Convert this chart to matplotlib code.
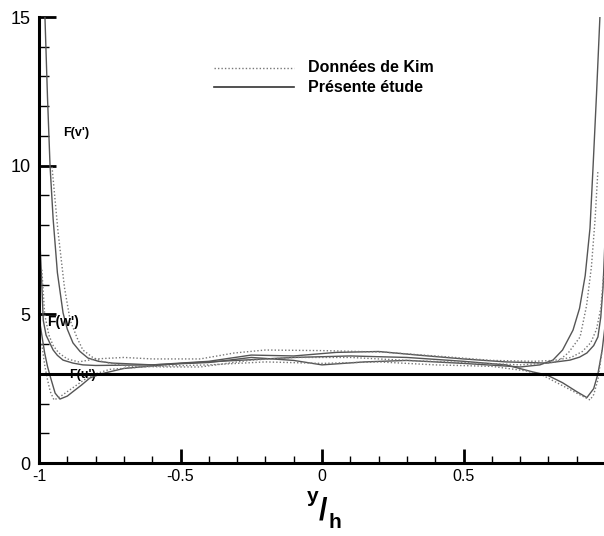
import matplotlib
matplotlib.use("Agg")
import matplotlib.pyplot as plt
from matplotlib.ticker import MultipleLocator

plt.rcParams["font.family"] = ["Liberation Sans", "DejaVu Sans"]

# present study (solid)
fv_x = [-0.979, -0.97, -0.961, -0.95, -0.935, -0.915, -0.9, -0.88, -0.855, -0.827, -0.79, -0.74, -0.6, -0.4,
        -0.25, -0.1, 0.0, 0.15, 0.3, 0.5, 0.7, 0.77, 0.816, 0.85, 0.887, 0.91, 0.93, 0.947, 0.958, 0.97, 0.982]
fv_y = [15.0, 12.3, 10.0, 8.2, 6.4, 5.05, 4.5, 4.04, 3.75, 3.53, 3.42, 3.36, 3.3, 3.38,
        3.55, 3.45, 3.3, 3.4, 3.45, 3.35, 3.23, 3.3, 3.46, 3.8, 4.47, 5.2, 6.3, 7.9, 10.0, 12.4, 15.0]

fw_x = [-1.0, -0.99, -0.985, -0.975, -0.96, -0.95, -0.935, -0.915, -0.88, -0.845, -0.8, -0.6, -0.4, -0.25,
        -0.1, 0.05, 0.2, 0.35, 0.5, 0.65, 0.795, 0.876, 0.91, 0.936, 0.96, 0.975, 0.985, 0.993, 1.0]
fw_y = [8.2, 6.0, 4.8, 4.3, 4.0, 3.8, 3.62, 3.46, 3.36, 3.3, 3.28, 3.3, 3.42, 3.63,
        3.6, 3.72, 3.75, 3.62, 3.5, 3.4, 3.36, 3.46, 3.56, 3.7, 3.95, 4.24, 4.9, 5.9, 7.5]

fu_x = [-1.0, -0.99, -0.98, -0.97, -0.96, -0.943, -0.926, -0.9, -0.88, -0.85, -0.82, -0.78, -0.7, -0.5,
        -0.3, -0.1, 0.1, 0.3, 0.5, 0.65, 0.746, 0.795, 0.85, 0.9, 0.936, 0.96, 0.975, 0.99, 1.0]
fu_y = [4.9, 4.3, 3.7, 3.25, 2.9, 2.35, 2.15, 2.25, 2.4, 2.62, 2.86, 3.0, 3.18, 3.35,
        3.45, 3.55, 3.6, 3.55, 3.42, 3.3, 3.06, 2.96, 2.7, 2.4, 2.2, 2.5, 3.0, 3.8, 4.6]

# Kim data (dotted)
kv_x = [-0.954, -0.933, -0.91, -0.89, -0.865, -0.845, -0.81, -0.774, -0.69, -0.55, -0.43, -0.25, -0.1,
        0.1, 0.3, 0.5, 0.7, 0.78, 0.83, 0.87, 0.912, 0.935, 0.952, 0.965, 0.975]
kv_y = [9.96, 7.8, 5.9, 4.8, 4.2, 3.8, 3.55, 3.4, 3.26, 3.23, 3.23, 3.46, 3.55,
        3.55, 3.45, 3.38, 3.3, 3.35, 3.4, 3.7, 4.24, 5.3, 6.6, 8.2, 9.85]

kw_x = [-0.99, -0.98, -0.965, -0.95, -0.93, -0.9, -0.86, -0.8, -0.7, -0.6, -0.43, -0.31, -0.2,
        0.0, 0.216, 0.4, 0.6, 0.75, 0.82, 0.88, 0.92, 0.95, 0.97, 0.985, 0.995]
kw_y = [6.5, 5.0, 4.3, 3.95, 3.7, 3.5, 3.4, 3.5, 3.55, 3.5, 3.5, 3.7, 3.8,
        3.78, 3.73, 3.6, 3.45, 3.42, 3.45, 3.55, 3.75, 4.05, 4.5, 5.2, 6.3]

ku_x = [-0.99, -0.98, -0.97, -0.96, -0.947, -0.93, -0.9, -0.87, -0.84, -0.8, -0.75, -0.6, -0.4, -0.2,
        0.0, 0.2, 0.4, 0.6, 0.72, 0.78, 0.83, 0.88, 0.92, 0.947, 0.96, 0.975, 0.99]
ku_y = [4.0, 3.3, 2.8, 2.4, 2.12, 2.2, 2.4, 2.6, 2.8, 3.0, 3.15, 3.25, 3.3, 3.4,
        3.35, 3.4, 3.3, 3.25, 3.1, 2.95, 2.7, 2.45, 2.25, 2.12, 2.3, 2.8, 3.8]

gauss_level = 3.0

fig = plt.figure(figsize=(6.04, 5.36), dpi=100)
ax = fig.add_axes([39 / 604, 1 - 463 / 536, 566 / 604, 446 / 536])

lc = "#555555"
for xs, ys in [(fv_x, fv_y), (fw_x, fw_y), (fu_x, fu_y)]:
    ax.plot(xs, ys, color=lc, lw=1.0, ls="-")
for xs, ys in [(kv_x, kv_y), (kw_x, kw_y), (ku_x, ku_y)]:
    ax.plot(xs, ys, color="#777777", lw=1.0, ls=(0, (1, 1.5)))
ax.axhline(gauss_level, color="black", lw=2.2)

ax.set_xlim(-1, 1)
ax.set_ylim(0, 15)
ax.xaxis.set_major_locator(MultipleLocator(0.5))
ax.xaxis.set_minor_locator(MultipleLocator(0.1))
ax.yaxis.set_major_locator(MultipleLocator(5))
ax.yaxis.set_minor_locator(MultipleLocator(1))
ax.set_xticks([-1, -0.5, 0, 0.5])
ax.set_xticklabels(["-1", "-0.5", "0", "0.5"])
ax.tick_params(axis="both", which="both", direction="in", color="black")
ax.tick_params(axis="y", which="major", length=12, width=2.0, labelsize=13, pad=6)
ax.tick_params(axis="y", which="minor", length=7, width=1.0)
ax.tick_params(axis="x", which="major", length=10, width=2.0, labelsize=11.5, pad=4)
ax.tick_params(axis="x", which="minor", length=5, width=1.0)
for s in ["top", "right"]:
    ax.spines[s].set_visible(False)
for s in ["left", "bottom"]:
    ax.spines[s].set_linewidth(2.2)

# labels on the curves
ax.text(-0.915, 11.1, "F(v')", fontsize=9, fontweight="bold", va="center")
ax.text(-0.97, 4.75, "F(w')", fontsize=10, fontweight="bold", va="center")
ax.text(-0.895, 2.95, "F(u')", fontsize=9, fontweight="bold", va="center", zorder=1)

# legend drawn by hand like the original
ax.plot([-0.38, -0.1], [13.3, 13.3], color="#777777", lw=1.0, ls=(0, (1, 1.5)), clip_on=False)
ax.plot([-0.38, -0.1], [12.63, 12.63], color="#333333", lw=1.2, clip_on=False)
ax.text(-0.05, 13.3, "Données de Kim", fontsize=11.5, fontweight="bold", va="center")
ax.text(-0.05, 12.63, "Présente étude", fontsize=11.5, fontweight="bold", va="center")

# y/h axis label
fig.text(313 / 604, 1 - 497 / 536, "y", fontsize=15, fontweight="bold", ha="center", va="center")
fig.text(323 / 604, 1 - 512 / 536, "/", fontsize=22, fontweight="bold", ha="center", va="center")
fig.text(335 / 604, 1 - 522 / 536, "h", fontsize=15, fontweight="bold", ha="center", va="center")

fig.savefig("out.png", dpi=100)
